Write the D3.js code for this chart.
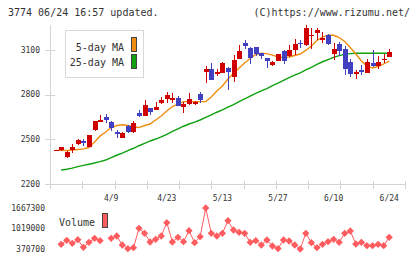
<!DOCTYPE html>
<html>
<head>
<meta charset="utf-8">
<script src="https://cdn.jsdelivr.net/npm/d3@7"></script>
<style>
  body { margin: 0; background: #fff; }
  text { font-family: "DejaVu Sans Mono", monospace; fill: #333; }
</style>
</head>
<body>
<div id="chart"></div>
<script>
// daily candles, oldest first (last = 6/24)
var open  = [2425,2426,2383,2426,2467,2489,2450,2563,2618,2648,2618,2551,2511,2590,2551,2679,2659,2708,2697,2742,
             2771,2764,2776,2719,2737,2735,2802,2954,2970,2939,2947,2977,2919,3042,3149,3111,3118,3078,3044,2996,
             3029,3093,3063,3097,3145,3135,3194,3216,3167,3203,3071,3138,3105,3019,2941,2968,2947,3015,2992,3035,3053];
var high  = [2428,2450,2419,2469,2500,2500,2532,2625,2663,2670,2623,2563,2549,2596,2625,2697,2764,2710,2753,2786,
             2820,2809,2791,2753,2809,2759,2820,2992,3011,2970,3019,2988,3066,3133,3167,3122,3122,3080,3046,3023,
             3076,3100,3133,3177,3167,3266,3248,3248,3221,3209,3149,3154,3127,3042,2968,2997,3042,3102,3060,3075,3109];
var low   = [2424,2424,2377,2410,2462,2455,2448,2558,2616,2608,2556,2512,2507,2540,2545,2652,2657,2663,2694,2735,
             2742,2742,2726,2679,2731,2731,2742,2876,2896,2925,2943,2831,2885,3039,3107,3009,3060,3037,2981,2992,
             3026,3003,3056,3066,3113,3127,3109,3165,3145,3131,3035,3058,2934,2919,2903,2930,2945,2989,2970,3015,3053];
var close = [2427,2446,2417,2450,2495,2473,2529,2623,2630,2630,2578,2534,2545,2551,2612,2659,2731,2686,2719,2764,
             2798,2776,2726,2737,2771,2753,2764,2970,2898,2954,3011,2954,3033,3093,3127,3044,3073,3062,3023,3019,
             3071,3027,3100,3138,3137,3251,3203,3232,3179,3142,3109,3091,2970,2937,2952,2952,3019,2992,3019,3042,3087];

var ma5  = [2426,2426,2425,2428,2432,2436,2445,2482,2522,2549,2579,2593,2598,2593,2583,2579,2593,2603,2630,2657,
            2690,2720,2737,2753,2754,2753,2753,2754,2784,2825,2858,2905,2942,2979,3013,3043,3070,3078,3076,3066,
            3053,3050,3053,3063,3073,3097,3127,3164,3187,3199,3199,3184,3157,3117,3073,3026,2992,2979,2989,3006,3026];
var ma25 = [null,2294,2299,2307,2317,2325,2333,2341,2350,2361,2377,2393,2407,2424,2440,2457,2473,2489,2502,2517,
            2534,2553,2571,2588,2603,2616,2630,2647,2664,2682,2698,2716,2733,2754,2772,2791,2808,2825,2841,2860,
            2878,2896,2914,2931,2947,2966,2984,3003,3021,3036,3050,3062,3071,3076,3078,3078,3078,3078,3078,3078,3078];

var volume = [null,519000,645800,551000,664800,424500,582600,709100,633200,null,709100,781800,497200,380200,411800,1025300,867200,592100,677400,781800,
              1202400,592100,740700,601600,949400,569900,759700,1667300,867200,781800,867200,1265700,971600,898800,867200,582600,633200,497200,655300,465600,
              385000,655300,623700,497200,370700,867200,569900,411800,519300,601600,677400,582600,867200,940000,528800,582600,475100,475100,519300,475100,740700];

var priceTicks = [2200, 2500, 2800, 3100];
var volTicks = [370700, 1019000, 1667300];
var dateLabels = ["4/9", "4/23", "5/13", "5/27", "6/10", "6/24"];
var dateIdx = [10, 20, 30, 40, 50, 60];

var width = 420, height = 259;

var svg = d3.select("#chart").append("svg")
    .attr("width", width)
    .attr("height", height);

var x = d3.scaleLinear().domain([0, open.length - 1]).range([55.6, 389.2]);
var y = d3.scaleLinear().domain([2200, 3100]).range([184, 50]);
var yv = d3.scaleLinear().domain([370700, 1667300]).range([249, 208]);
var grid = d3.scaleLinear().domain([0, 11]).range([50, 405]);

var axisColor = "#d4d4d4";

// header
svg.append("text").attr("x", 8).attr("y", 16).style("font-size", "10px")
    .text("3774 06/24 16:57 updated.");
svg.append("text").attr("x", 410).attr("y", 16).style("font-size", "10px")
    .attr("text-anchor", "end")
    .text("(C)https://www.rizumu.net/");

// axes
var ax = svg.append("g").attr("shape-rendering", "crispEdges")
    .style("stroke", axisColor).style("stroke-width", 1);
ax.append("line").attr("x1", 50.5).attr("x2", 50.5).attr("y1", 25).attr("y2", 189);
ax.append("line").attr("x1", 50).attr("x2", 405).attr("y1", 184.5).attr("y2", 184.5);
ax.selectAll(".yt").data(priceTicks).enter().append("line")
    .attr("x1", 45).attr("x2", 55)
    .attr("y1", function(d) { return Math.round(y(d)) + 0.5; })
    .attr("y2", function(d) { return Math.round(y(d)) + 0.5; });
ax.selectAll(".xt").data(grid.ticks(11)).enter().append("line")
    .attr("x1", function(d) { return Math.round(grid(d)) + 0.5; })
    .attr("x2", function(d) { return Math.round(grid(d)) + 0.5; })
    .attr("y1", 181).attr("y2", 189);

svg.selectAll(".ylab").data(priceTicks).enter().append("text")
    .attr("x", 40).attr("y", function(d) { return y(d); })
    .attr("dy", "0.35em").attr("text-anchor", "end")
    .style("font-size", "8px")
    .text(function(d) { return d; });

svg.selectAll(".xlab").data(dateLabels).enter().append("text")
    .attr("x", function(d, i) { return x(dateIdx[i]); })
    .attr("y", 201).attr("text-anchor", "middle")
    .style("font-size", "8px")
    .text(function(d) { return d; });

svg.selectAll(".vlab").data(volTicks).enter().append("text")
    .attr("x", 45).attr("y", function(d) { return yv(d); })
    .attr("dy", "0.35em").attr("text-anchor", "end")
    .style("font-size", "8px")
    .text(function(d) { return d; });

// moving averages
var maLine = function(arr) {
    return d3.line()
        .defined(function(d) { return d != null; })
        .x(function(d, i) { return x(i); })
        .y(function(d) { return y(d); })(arr);
};
svg.append("path").attr("d", maLine(ma25))
    .style("fill", "none").style("stroke", "#10a010").style("stroke-width", 1.4);
svg.append("path").attr("d", maLine(ma5))
    .style("fill", "none").style("stroke", "#f08c10").style("stroke-width", 1.4);

// candles
var idx = d3.range(open.length);
var colorOf = function(i) { return close[i] >= open[i] ? "#d00000" : "#4040c0"; };
var cg = svg.append("g").attr("shape-rendering", "crispEdges");
cg.selectAll(".wick").data(idx).enter().append("line")
    .attr("x1", function(i) { return Math.round(x(i)) + 0.5; })
    .attr("x2", function(i) { return Math.round(x(i)) + 0.5; })
    .attr("y1", function(i) { return y(high[i]); })
    .attr("y2", function(i) { return y(low[i]); })
    .style("stroke", colorOf);
cg.selectAll(".body").data(idx).enter().append("rect")
    .attr("x", function(i) { return Math.round(x(i)) - 2; })
    .attr("width", 5)
    .attr("y", function(i) { return y(Math.max(open[i], close[i])); })
    .attr("height", function(i) { return Math.max(1, Math.abs(y(open[i]) - y(close[i]))); })
    .style("fill", colorOf);

// price legend
var lg = svg.append("g");
lg.append("rect").attr("x", 65.5).attr("y", 30.5).attr("width", 78).attr("height", 47)
    .style("fill", "#fff").style("stroke", "#d8d8d8");
lg.append("text").attr("x", 124).attr("y", 47.5).attr("dy", "0.35em")
    .attr("text-anchor", "end").style("font-size", "10px").text("5-day MA");
lg.append("text").attr("x", 124).attr("y", 62).attr("dy", "0.35em")
    .attr("text-anchor", "end").style("font-size", "10px").text("25-day MA");
lg.append("rect").attr("x", 131.5).attr("y", 37.5).attr("width", 5).attr("height", 14)
    .style("fill", "#f08c10").style("stroke", "#444");
lg.append("rect").attr("x", 131.5).attr("y", 54.5).attr("width", 5).attr("height", 14)
    .style("fill", "#10a010").style("stroke", "#444");

// volume
var volColor = "#ff5c60";
svg.append("path")
    .attr("d", d3.line()
        .defined(function(d) { return d != null; })
        .x(function(d, i) { return x(i); })
        .y(function(d) { return yv(d); })(volume))
    .style("fill", "none").style("stroke", volColor).style("stroke-width", 1);
svg.selectAll(".vpt").data(idx.filter(function(i) { return volume[i] != null; })).enter()
    .append("path")
    .attr("d", d3.symbol(d3.symbolDiamond2, 34))
    .attr("transform", function(i) { return "translate(" + x(i) + "," + yv(volume[i]) + ")"; })
    .style("fill", volColor);

svg.append("text").attr("x", 59).attr("y", 222).attr("dy", "0.35em")
    .style("font-size", "10px").text("Volume");
svg.append("rect").attr("x", 102.5).attr("y", 213.5).attr("width", 5).attr("height", 14)
    .style("fill", volColor).style("stroke", "#444");
</script>
</body>
</html>
